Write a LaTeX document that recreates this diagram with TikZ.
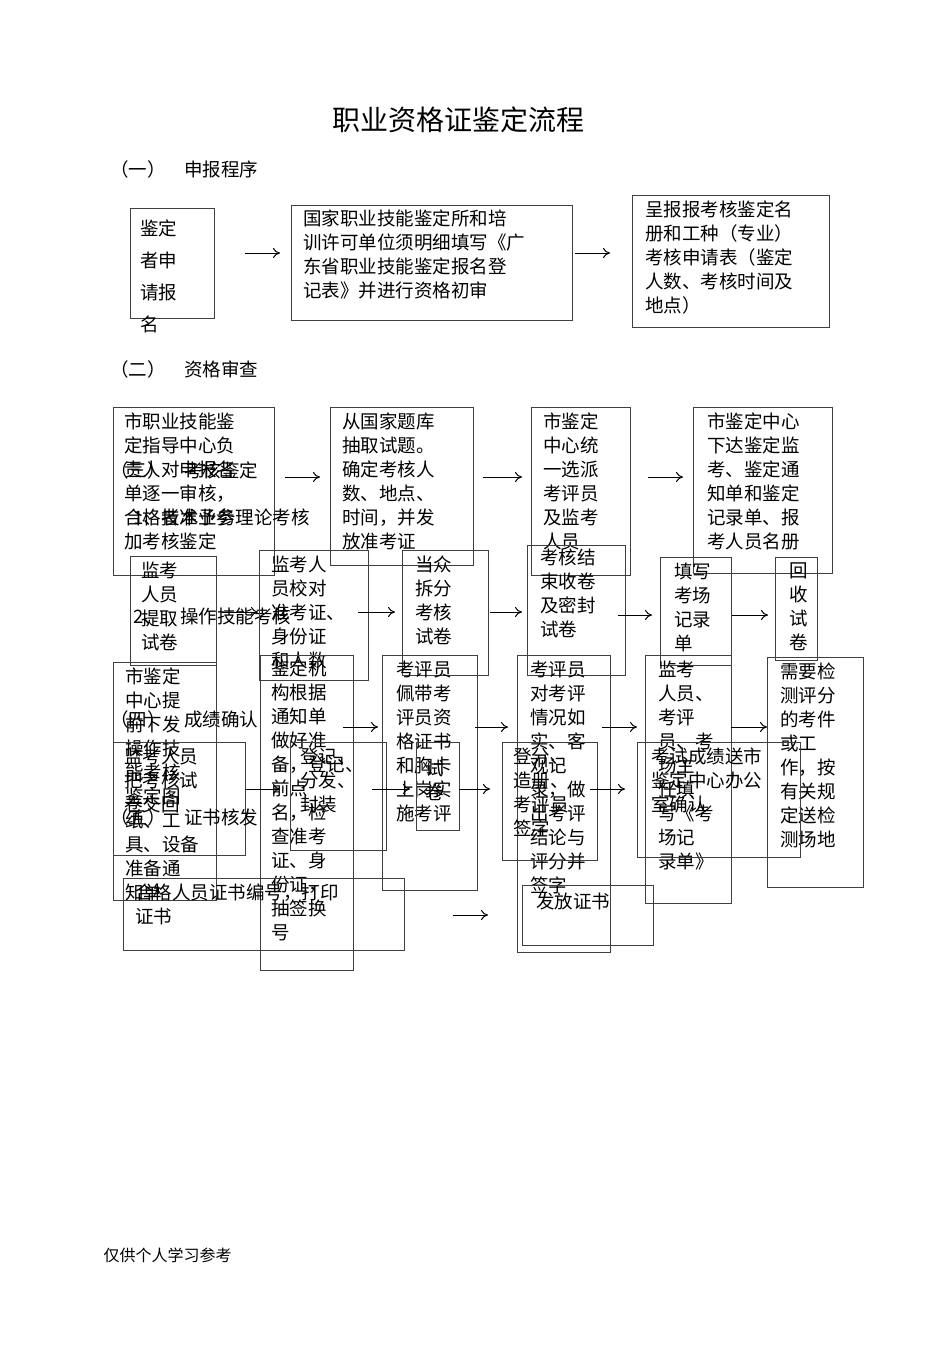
\documentclass[tikz,border=0pt]{standalone}
\usepackage{fontspec}
\setmainfont{Noto Sans CJK SC}
\usetikzlibrary{arrows.meta}
\newcommand{\bx}[5]{\node[boxst,minimum width={#4-#2},minimum height={#5-#3}] (#1) at (#2,#3) {};}
\newcommand{\tx}[4]{\node[txtst] (#1) at (#2,#3) {#4};}
\newcommand{\ar}[4]{\coordinate (#1s) at (#2,#4);\coordinate (#1e) at (#3,#4);\draw[arr] (#1s) -- (#1e);}
\tikzset{
 boxst/.style={draw=black!75,line width=1pt,anchor=north west,inner sep=0pt,outer sep=0pt},
 txtst/.style={anchor=north west,inner sep=0pt,align=left,font=\fontsize{18.5}{24}\selectfont},
 arr/.style={-{To[length=7pt,width=10pt]},line width=1pt}
}
\begin{document}
\begin{tikzpicture}[x=1pt,y=-1pt]
\useasboundingbox (0,0) rectangle (950,1345);
\node[font=\fontsize{28}{32}\selectfont] (title) at (458,120) {职业资格证鉴定流程};
\tx{h1}{110}{160}{（一）\quad 申报程序}
\tx{h2}{110}{360}{（二）\quad 资格审查}
% section 1
\bx{A}{130}{208}{214}{318}
\node[txtst,font=\fontsize{18.5}{32}\selectfont] (At) at (140,220) {鉴定\\者申\\请报\\名};
\ar{a1}{245}{280}{253}
\bx{B}{291}{205}{572}{320}
\tx{Bt}{303}{210}{国家职业技能鉴定所和培\\训许可单位须明细填写《广\\东省职业技能鉴定报名登\\记表》并进行资格初审}
\ar{a2}{575}{610}{253}
\bx{C}{632}{195}{829}{327}
\tx{Ct}{645}{201}{呈报报考核鉴定名\\册和工种（专业）\\考核申请表（鉴定\\人数、考核时间及\\地点）}
% row 1
\bx{D}{113}{407}{274}{575}
\tx{Dt}{124}{413}{市职业技能鉴\\定指导中心负\\责人对申报名\\单逐一审核，\\合格者准予参\\加考核鉴定}
\tx{o3}{110}{461}{（三）\quad 考核鉴定}
\tx{o1}{133}{509}{1、技术业务理论考核}
\ar{b1}{285}{320}{477}
\bx{E}{330}{407}{473}{565}
\tx{Et}{342}{413}{从国家题库\\抽取试题。\\确定考核人\\数、地点、\\时间，并发\\放准考证}
\ar{b2}{483}{522}{477}
\bx{F}{531}{407}{630}{575}
\tx{Ft}{543}{413}{市鉴定\\中心统\\一选派\\考评员\\及监考\\人员}
\ar{b3}{648}{683}{477}
\bx{G}{693}{407}{832}{573}
\tx{Gt}{707}{413}{市鉴定中心\\下达鉴定监\\考、鉴定通\\知单和鉴定\\记录单、报\\考人员名册}
% row 2
\bx{H}{130}{556}{216}{665}
\tx{Ht}{141}{562}{监考\\人员\\提取\\试卷}
\tx{o2}{133}{608}{2、\quad 操作技能考核}
\ar{c1}{222}{258}{612}
\bx{I}{259}{550}{368}{680}
\tx{It}{271}{556}{监考人\\员校对\\准考证、\\身份证\\和人数}
\ar{c2}{358}{395}{612}
\bx{J}{402}{550}{488}{675}
\tx{Jt}{415}{556}{当众\\拆分\\考核\\试卷}
\ar{c3}{490}{522}{612}
\bx{K}{527}{545}{625}{675}
\tx{Kt}{540}{549}{考核结\\束收卷\\及密封\\试卷}
\ar{c4}{618}{652}{615}
\bx{L}{660}{557}{731}{665}
\tx{Lt}{674}{563}{填写\\考场\\记录\\单}
\ar{c5}{732}{768}{615}
\bx{M}{775}{557}{817}{660}
\tx{Mt}{789}{563}{回\\收\\试\\卷}
% row 3
\bx{N}{113}{662}{216}{900}
\tx{Nt}{125}{668}{市鉴定\\中心提\\前下发\\操作技\\能考核\\鉴定图\\纸、工\\具、设备\\准备通\\知单}
\tx{o4}{110}{710}{（四）\quad 成绩确认}
\bx{O}{260}{655}{353}{970}
\tx{Ot}{271}{660}{鉴定机\\构根据\\通知单\\做好准\\备，登记、\\前点\\名，检\\查准考\\证、身\\份证，\\抽签换\\号}
\ar{d1}{343}{378}{727}
\bx{P}{382}{655}{477}{890}
\tx{Pt}{396}{661}{考评员\\佩带考\\评员资\\格证书\\和胸卡\\上岗实\\施考评}
\ar{d2}{475}{508}{727}
\bx{Q}{517}{655}{610}{952}
\tx{Qt}{530}{661}{考评员\\对考评\\情况如\\实、客\\观记\\录，做\\出考评\\结论与\\评分并\\签字}
\ar{d3}{602}{637}{727}
\bx{R}{645}{655}{731}{903}
\tx{Rt}{658}{661}{监考\\人员、\\考评\\员、考\\场主\\任填\\写《考\\场记\\录单》}
\ar{d4}{731}{767}{727}
\bx{S}{767}{657}{863}{887}
\tx{St}{780}{663}{需要检\\测评分\\的考件\\或工\\作，按\\有关规\\定送检\\测场地}
% row 4
\bx{T}{113}{742}{245}{855}
\tx{Tt}{124}{748}{监考人员\\把考核试\\卷交回}
\tx{o5}{110}{808}{（五）\quad 证书核发}
\ar{e1}{245}{280}{789}
\bx{U}{290}{742}{386}{850}
\tx{Ut}{300}{748}{登记、\\分发、\\封装}
\ar{e2}{372}{410}{789}
\bx{V}{416}{742}{459}{830}
\tx{Vt}{425}{760}{试\\卷}
\ar{e3}{459}{490}{789}
\bx{W}{502}{742}{597}{860}
\tx{Wt}{513}{748}{登分、\\造册、\\考评员\\签字}
\ar{e4}{590}{625}{789}
\bx{X}{637}{742}{800}{857}
\tx{Xt}{651}{748}{考试成绩送市\\鉴定中心办公\\室确认}
\bx{Y}{123}{878}{404}{950}
\tx{Yt}{135}{884}{合格人员证书编号，打印\\证书}
\ar{f1}{453}{488}{915}
\bx{Z}{522}{885}{653}{945}
\tx{Zt}{536}{893}{发放证书}
\node[anchor=west,font=\fontsize{16}{20}\selectfont] (foot) at (100,1255) {仅供个人学习参考};
\end{tikzpicture}
\end{document}
